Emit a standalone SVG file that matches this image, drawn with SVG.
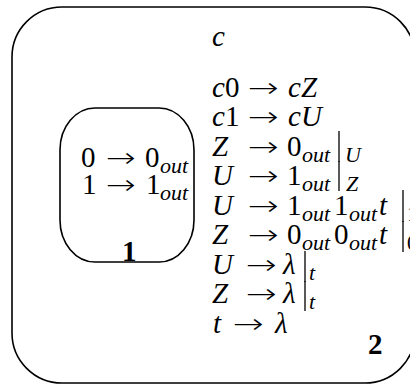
<svg xmlns="http://www.w3.org/2000/svg" width="410" height="385" viewBox="0 0 410 385">
<style>
.box{fill:none;stroke:#000;stroke-width:1.6}
.m{font-family:"Liberation Serif","Times New Roman",serif;font-size:29px;fill:#000}
.a{font-family:"DejaVu Sans","Liberation Sans",sans-serif;font-size:27px;font-weight:200;fill:#000}
.i{font-style:italic}
.s{font-family:"Liberation Serif","Times New Roman",serif;font-size:22px;font-style:italic;fill:#000}
.sd{font-family:"Liberation Serif","Times New Roman",serif;font-size:21px;fill:#000}
.b{font-weight:bold}
.bar{stroke:#000;stroke-width:1.3}
</style>
<rect width="410" height="385" fill="#fff"/>
<g id="connectors"/>
<g id="node-2">
  <rect class="box" x="12" y="7" width="403" height="376" rx="50" ry="50"/>
  <text class="m i" x="212" y="46">c</text>
  <!-- row 1 -->
  <text class="m" y="97"><tspan class="i" x="212">c</tspan><tspan x="225">0</tspan></text>
  <text class="a" x="248" y="97" textLength="31" lengthAdjust="spacingAndGlyphs">→</text>
  <text class="m i" y="97"><tspan x="288">c</tspan><tspan x="301">Z</tspan></text>
  <!-- row 2 -->
  <text class="m" y="126"><tspan class="i" x="212">c</tspan><tspan x="225">1</tspan></text>
  <text class="a" x="248" y="126" textLength="31" lengthAdjust="spacingAndGlyphs">→</text>
  <text class="m i" y="126"><tspan x="288">c</tspan><tspan x="301">U</tspan></text>
  <!-- row 3 -->
  <text class="m i" x="212" y="156">Z</text>
  <text class="a" x="248" y="156" textLength="31" lengthAdjust="spacingAndGlyphs">→</text>
  <text class="m" x="287" y="156">0</text>
  <text class="s" x="302" y="162">out</text>
  <line class="bar" x1="339" y1="131" x2="339" y2="162"/>
  <text class="s" x="345" y="162">U</text>
  <!-- row 4 -->
  <text class="m i" x="212" y="185">U</text>
  <text class="a" x="248" y="185" textLength="31" lengthAdjust="spacingAndGlyphs">→</text>
  <text class="m" x="287" y="185">1</text>
  <text class="s" x="302" y="191">out</text>
  <line class="bar" x1="339" y1="161" x2="339" y2="191"/>
  <text class="s" x="346" y="191">Z</text>
  <!-- row 5 -->
  <text class="m i" x="212" y="215">U</text>
  <text class="a" x="248" y="215" textLength="31" lengthAdjust="spacingAndGlyphs">→</text>
  <text class="m" x="287" y="215">1</text>
  <text class="s" x="302" y="221">out</text>
  <text class="m" x="334" y="215">1</text>
  <text class="s" x="349" y="221">out</text>
  <text class="m i" x="379" y="215">t</text>
  <line class="bar" x1="403" y1="190" x2="403" y2="222"/>
  <text class="sd" x="407" y="221">1</text>
  <!-- row 6 -->
  <text class="m i" x="212" y="244">Z</text>
  <text class="a" x="248" y="244" textLength="31" lengthAdjust="spacingAndGlyphs">→</text>
  <text class="m" x="287" y="244">0</text>
  <text class="s" x="302" y="250">out</text>
  <text class="m" x="334" y="244">0</text>
  <text class="s" x="349" y="250">out</text>
  <text class="m i" x="379" y="244">t</text>
  <line class="bar" x1="403" y1="221" x2="403" y2="252"/>
  <text class="sd" x="407" y="250">0</text>
  <!-- row 7 -->
  <text class="m i" x="212" y="274">U</text>
  <text class="a" x="246" y="274" textLength="31" lengthAdjust="spacingAndGlyphs">→</text>
  <text class="m i" x="283" y="274">λ</text>
  <line class="bar" x1="305" y1="251" x2="305" y2="282"/>
  <text class="s" x="309" y="280">t</text>
  <!-- row 8 -->
  <text class="m i" x="212" y="303">Z</text>
  <text class="a" x="246" y="303" textLength="31" lengthAdjust="spacingAndGlyphs">→</text>
  <text class="m i" x="283" y="303">λ</text>
  <line class="bar" x1="305" y1="281" x2="305" y2="311"/>
  <text class="s" x="309" y="309">t</text>
  <!-- row 9 -->
  <text class="m i" x="213" y="333">t</text>
  <text class="a" x="233" y="333" textLength="31" lengthAdjust="spacingAndGlyphs">→</text>
  <text class="m i" x="275" y="333">λ</text>
  <text class="m b" x="368" y="354">2</text>
</g>
<g id="node-1">
  <rect class="box" x="60" y="108" width="134" height="154" rx="35" ry="42"/>
  <text class="m" x="81" y="167">0</text>
  <text class="a" x="106" y="167" textLength="30" lengthAdjust="spacingAndGlyphs">→</text>
  <text class="m" x="145" y="167">0</text>
  <text class="s" x="160" y="173">out</text>
  <text class="m" x="82" y="194">1</text>
  <text class="a" x="106" y="194" textLength="30" lengthAdjust="spacingAndGlyphs">→</text>
  <text class="m" x="146" y="194">1</text>
  <text class="s" x="160" y="200">out</text>
  <text class="m b" x="122" y="261">1</text>
</g>
</svg>
